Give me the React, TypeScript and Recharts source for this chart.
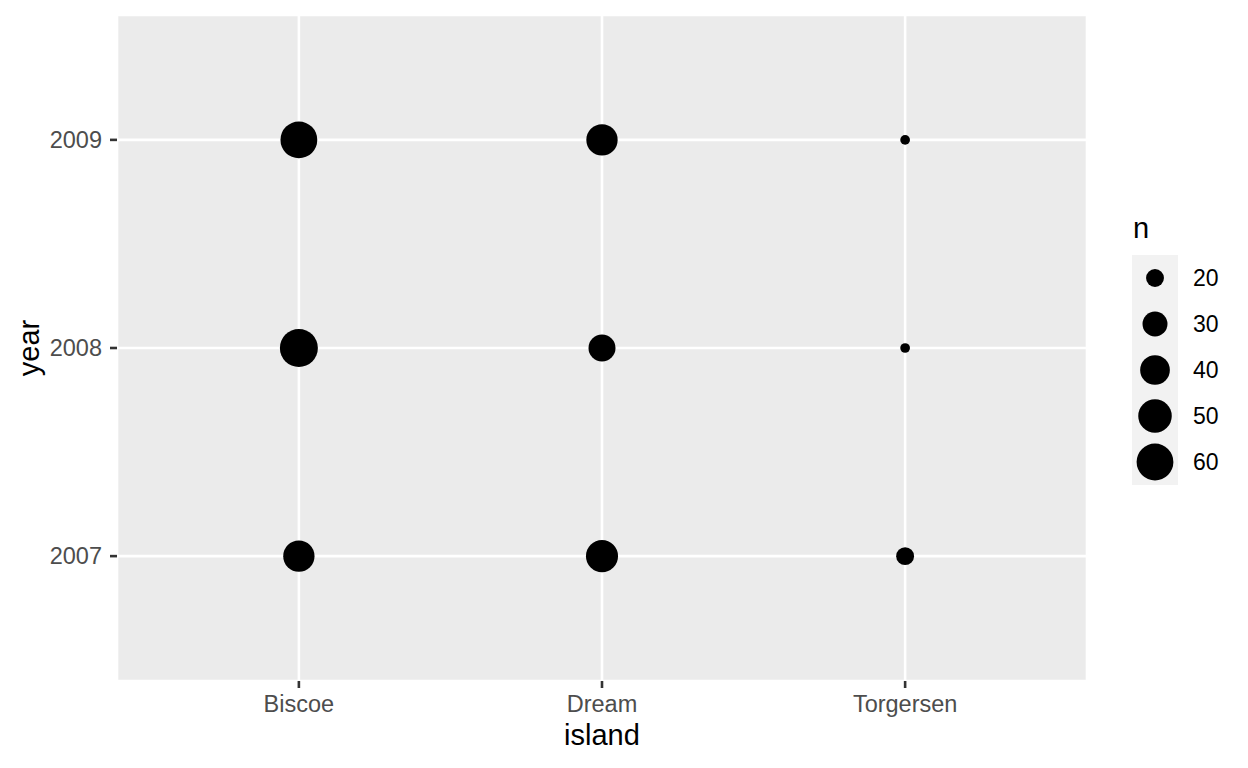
import React from 'react';
import { ScatterChart, Scatter, XAxis, YAxis, CartesianGrid, Label } from 'recharts';

const islands = ['Biscoe', 'Dream', 'Torgersen'];
const years = [2007, 2008, 2009];
const biscoeCounts = [44, 64, 60];
const dreamCounts = [46, 34, 44];
const torgersenCounts = [20, 16, 16];
const legendBreaks = [20, 30, 40, 50, 60];
const yTicks = [2007, 2008, 2009];
const xTicks = [1, 2, 3];

const countsByIsland = [biscoeCounts, dreamCounts, torgersenCounts];
const data = islands.flatMap((island, i) =>
  years.map((year, j) => ({ island, x: i + 1, year, n: countsByIsland[i][j] }))
);
const allN = data.map((d) => d.n);
const nMin = Math.min(...allN);
const nMax = Math.max(...allN);

const FONT = '"Liberation Sans", Arial, Helvetica, sans-serif';
const radius = (n: number) => {
  const t = Math.max(0, (n - nMin) / (nMax - nMin));
  return (9.7 + 28.3 * Math.sqrt(t)) / 2;
};

const Dot = (props: any) => {
  const { cx, cy, payload } = props;
  if (cx == null || cy == null) return null;
  return <circle cx={cx} cy={cy} r={radius(payload.n)} fill="#000000" />;
};

export default function App() {
  return (
    <div style={{ position: 'absolute', left: 0, top: 0, width: 1248, height: 768, background: '#ffffff' }}>
      <ScatterChart width={1248} height={768} margin={{ top: 15, right: 161, bottom: 0, left: 0 }}>
        <CartesianGrid fill="#EBEBEB" stroke="#FFFFFF" strokeWidth={2.6} />
        <XAxis
          type="number"
          dataKey="x"
          domain={[0.4, 3.6]}
          ticks={xTicks}
          allowDataOverflow
          height={87}
          axisLine={false}
          tickSize={7}
          tickMargin={7}
          tickLine={{ stroke: '#333333', strokeWidth: 2.6 }}
          tick={{ fill: '#4D4D4D', fontSize: 23.5, fontFamily: FONT }}
          tickFormatter={(v: number) => islands[v - 1]}
        >
          <Label
            content={(p: any) => {
              const vb = p.viewBox || { x: 117, y: 681, width: 970 };
              return (
                <text x={vb.x + vb.width / 2} y={745} textAnchor="middle" fontSize={29} fontFamily={FONT} fill="#000000">
                  island
                </text>
              );
            }}
          />
        </XAxis>
        <YAxis
          type="number"
          dataKey="year"
          domain={[2006.4, 2009.6]}
          ticks={yTicks}
          allowDataOverflow
          width={117}
          axisLine={false}
          tickSize={7}
          tickMargin={8}
          tickLine={{ stroke: '#333333', strokeWidth: 2.6 }}
          tick={{ fill: '#4D4D4D', fontSize: 23.5, fontFamily: FONT }}
        >
          <Label
            content={(p: any) => {
              const vb = p.viewBox || { x: 0, y: 15, height: 666 };
              const cy = vb.y + vb.height / 2;
              return (
                <text x={39} y={cy} transform={`rotate(-90, 39, ${cy})`} textAnchor="middle" fontSize={29} fontFamily={FONT} fill="#000000">
                  year
                </text>
              );
            }}
          />
        </YAxis>
        <Scatter data={data} isAnimationActive={false} shape={<Dot />} />
      </ScatterChart>
      <svg style={{ position: 'absolute', left: 1120, top: 200 }} width={128} height={300}>
        <text x={13} y={38} fontSize={29} fontFamily={FONT} fill="#000000">n</text>
        <rect x={12} y={55} width={46} height={46 * legendBreaks.length} fill="#F2F2F2" />
        {legendBreaks.map((b, i) => {
          const cy = 78 + i * 46;
          return (
            <g key={b}>
              <circle cx={35} cy={cy} r={radius(b)} fill="#000000" />
              <text x={73} y={cy + 8.3} fontSize={23} fontFamily={FONT} fill="#000000">{b}</text>
            </g>
          );
        })}
      </svg>
    </div>
  );
}
